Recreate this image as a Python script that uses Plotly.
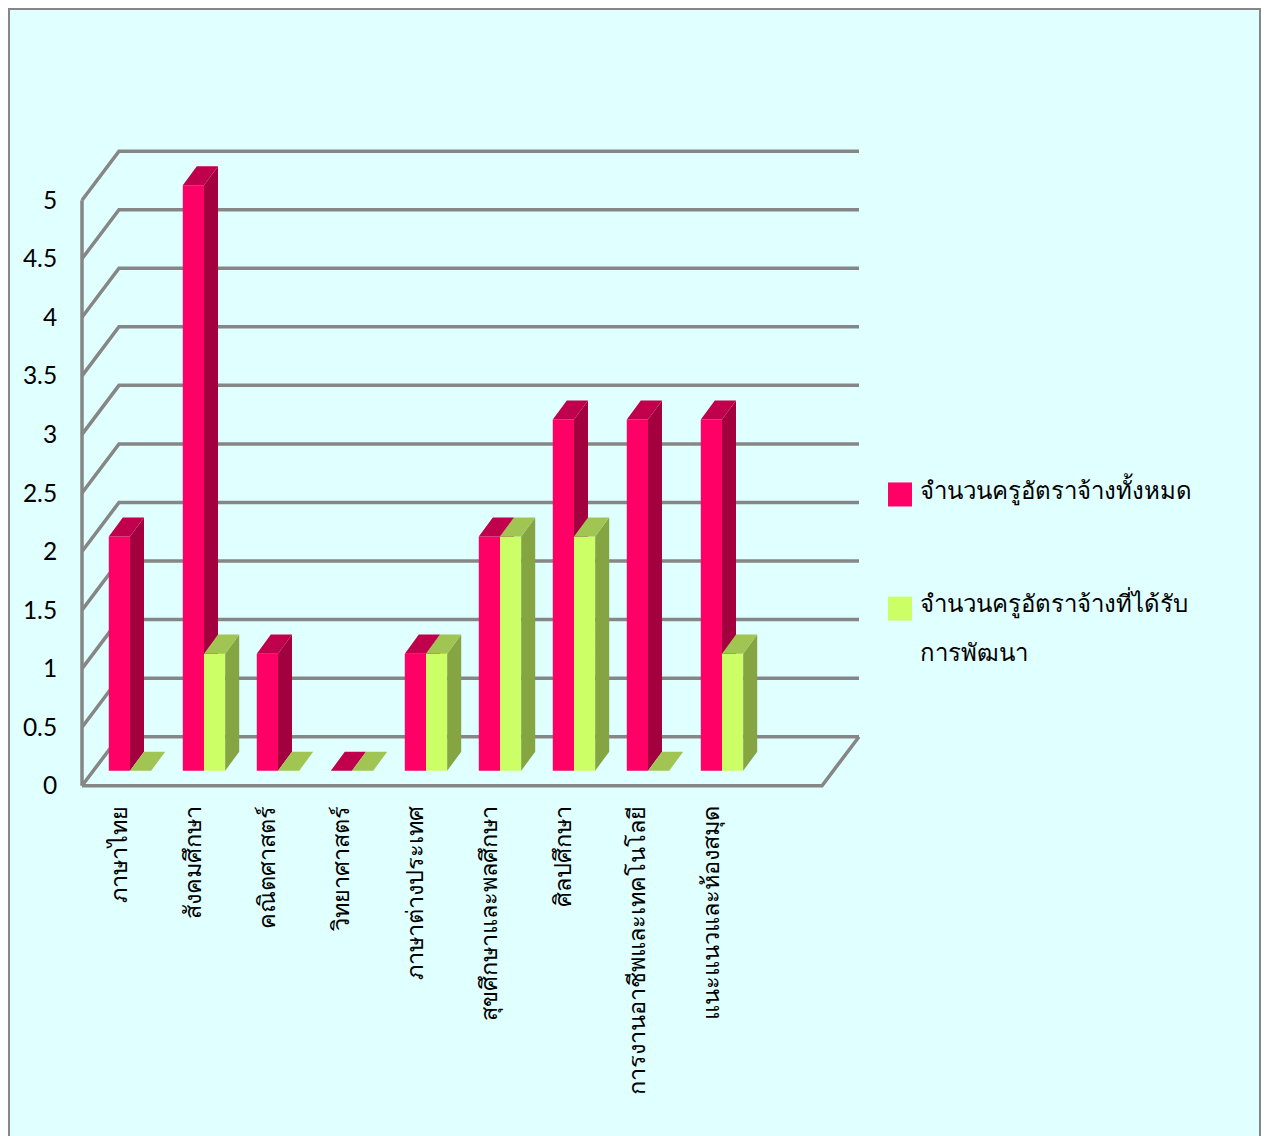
import plotly.graph_objects as go

categories = ["ภาษาไทย", "สังคมศึกษา", "คณิตศาสตร์", "วิทยาศาสตร์", "ภาษาต่างประเทศ",
              "สุขศึกษาและพลศึกษา", "ศิลปศึกษา", "การงานอาชีพและเทคโนโลยี", "แนะแนวและห้องสมุด"]
total_teachers = [2, 5, 1, 0, 1, 2, 3, 3, 3]
trained_teachers = [0, 1, 0, 0, 1, 2, 2, 0, 1]
y_ticks = [0, 0.5, 1, 1.5, 2, 2.5, 3, 3.5, 4, 4.5, 5]
y_tick_text = ["0", "0.5", "1", "1.5", "2", "2.5", "3", "3.5", "4", "4.5", "5"]
legend_total = "จำนวนครูอัตราจ้างทั้งหมด"
legend_trained = ["จำนวนครูอัตราจ้างที่ได้รับ", "การพัฒนา"]

W, H = 1267, 1136
Y_FIX = 1 / 0.992
PAD = 6
PLOT_L, PLOT_R, PLOT_T, PLOT_B = 82, 859, 151, 785
PX_X, PX_Y = 74.0, 117.0
X_ZERO, Y_ZERO = -0.5, 0.0
XEND = X_ZERO + (PLOT_R - PLOT_L) / PX_X
XR = [X_ZERO - PAD / PX_X, XEND + PAD / PX_X]
YR = [-PAD / PX_Y, (PLOT_B - PLOT_T + PAD) / PX_Y]
DX, DY = 37 / PX_X, 49 / PX_Y            # wall depth
BAR_W = 21.2 / PX_X
BAR_DX, BAR_DY = 14 / PX_X, 19 / PX_Y    # bar depth
BASE = 15 / PX_Y
OFF1, OFF2 = -10.2 / PX_X, 11 / PX_X
FONT = "Lato, 'Noto Sans', sans-serif"
GRAY = "#868686"

def fx(px): return px / W
def fy(px): return 1 - px * Y_FIX / H

def faces(vals, off):
    side_x, side_y, top_x, top_y = [], [], [], []
    for i, v in enumerate(vals):
        x0, x1 = i + off, i + off + BAR_W
        t = BASE + v
        side_x += [x1, x1, x1 + BAR_DX, x1 + BAR_DX, x1, None]
        side_y += [BASE, t, t + BAR_DY, BASE + BAR_DY, BASE, None]
        top_x += [x0, x1, x1 + BAR_DX, x0 + BAR_DX, x0, None]
        top_y += [t, t, t + BAR_DY, t + BAR_DY, t, None]
    return side_x, side_y, top_x, top_y

fig = go.Figure()

# walls and floor, from the value ticks
bx, by = [], []
for v in y_ticks:
    bx += [X_ZERO, X_ZERO + DX, XEND, None]
    by += [v, v + DY, v + DY, None]
bx += [X_ZERO, X_ZERO, None, X_ZERO, XEND - DX, XEND]
by += [0, y_ticks[-1], None, 0, 0, DY]
fig.add_trace(go.Scatter(x=bx, y=by, mode="lines", line=dict(color=GRAY, width=3.5),
                         hoverinfo="skip", showlegend=False, xaxis="x", yaxis="y"))

def series(name, vals, off, front, side, top, ax):
    xa, ya = f"x{ax}", f"y{ax}"
    fig.add_trace(go.Bar(name=name, x=list(range(len(vals))), y=vals, base=BASE,
                         width=BAR_W, offset=off, marker=dict(color=front, line=dict(width=0)),
                         showlegend=False, xaxis=xa, yaxis=ya))
    sx, sy, tx, ty = faces(vals, off)
    for xs, ys, c in ((sx, sy, side), (tx, ty, top)):
        fig.add_trace(go.Scatter(x=xs, y=ys, mode="lines", fill="toself", fillcolor=c,
                                 line=dict(width=0, color=c), hoverinfo="skip",
                                 showlegend=False, xaxis=xa, yaxis=ya))

series(legend_total, total_teachers, OFF1, "#FF0066", "#A3003F", "#C0004D", 2)
series(" ".join(legend_trained), trained_teachers, OFF2, "#CCFF66", "#84A542", "#A0C552", 3)

dom_x = [fx(PLOT_L - PAD), fx(PLOT_R + PAD)]
dom_y = [fy(PLOT_B + PAD), fy(PLOT_T - PAD)]
hidden = dict(range=XR, domain=dom_x, visible=False, fixedrange=True)
hidden_y = dict(range=YR, domain=dom_y, visible=False, fixedrange=True)

shapes = [
    dict(type="rect", xref="paper", yref="paper", x0=fx(9), x1=fx(1260), y0=-0.05, y1=fy(9),
         line=dict(color=GRAY, width=2), fillcolor="#E0FFFF", layer="below"),
    dict(type="rect", xref="paper", yref="paper", x0=fx(888), x1=fx(912), y0=fy(506), y1=fy(482),
         line=dict(width=0), fillcolor="#FF0066"),
    dict(type="rect", xref="paper", yref="paper", x0=fx(888), x1=fx(912), y0=fy(620), y1=fy(596),
         line=dict(width=0), fillcolor="#CCFF66"),
]
ann = []
for txt, py in ((legend_total, 489.5), (legend_trained[0], 602.5), (legend_trained[1], 650.5)):
    ann.append(dict(text=txt, xref="paper", yref="paper", x=fx(918), y=fy(py), xanchor="left",
                    yanchor="middle", showarrow=False, font=dict(family=FONT, size=24, color="#000000")))

fig.update_layout(
    width=W, height=H, margin=dict(l=0, r=0, t=0, b=0, pad=0), autosize=False,
    paper_bgcolor="#FFFFFF", plot_bgcolor="rgba(0,0,0,0)", showlegend=False,
    barmode="overlay", shapes=shapes, annotations=ann,
    font=dict(family=FONT, color="#000000"),
    xaxis=dict(range=XR, domain=dom_x, tickmode="array", tickvals=list(range(len(categories))),
               ticktext=categories, tickangle=-90, ticks="outside", ticklen=4,
               tickcolor="rgba(0,0,0,0)", showgrid=False, zeroline=False, showline=False,
               tickfont=dict(family=FONT, size=23.5), fixedrange=True),
    yaxis=dict(range=YR, domain=dom_y, tickmode="array", tickvals=y_ticks, ticktext=y_tick_text,
               ticks="outside", ticklen=13, tickcolor="rgba(0,0,0,0)", showgrid=False,
               zeroline=False, showline=False, tickfont=dict(family=FONT, size=24.5), fixedrange=True),
    xaxis2=dict(overlaying="x", **hidden), yaxis2=dict(overlaying="y", **hidden_y),
    xaxis3=dict(overlaying="x", **hidden), yaxis3=dict(overlaying="y", **hidden_y),
)
fig.write_html("out.html", config={"displayModeBar": False},
               post_script="document.body.style.margin='0';document.documentElement.style.overflow='hidden';")
